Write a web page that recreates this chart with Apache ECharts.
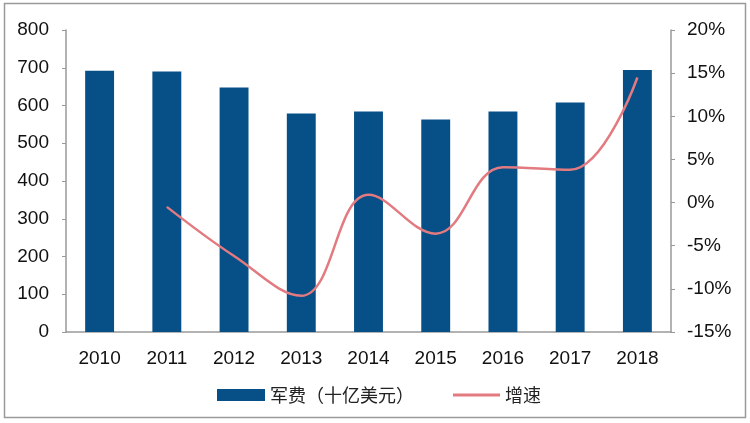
<!DOCTYPE html>
<html>
<head>
<meta charset="utf-8">
<script src="https://cdn.jsdelivr.net/npm/echarts@6/dist/echarts.min.js"></script>
<style>
  html, body { margin: 0; padding: 0; background: #fff; }
  #chart { width: 750px; height: 423px; }
</style>
</head>
<body>
<div id="chart"></div>
<script>
const years = ["2010", "2011", "2012", "2013", "2014", "2015", "2016", "2017", "2018"];
const spending = [692, 690, 648, 579, 584, 563, 584, 608, 694];
const growth = [null, -0.5, -6.2, -10.8, 0.9, -3.6, 4.1, 3.8, 14.5];

const myChart = echarts.init(document.getElementById("chart"));
const font = "Liberation Sans, Arial, sans-serif";
const legendText = { fontSize: 18, color: "#222", fontFamily: "Noto Sans CJK SC" };

const option = {
  animation: false,
  graphic: [
    {
      type: "rect",
      shape: { x: 4.5, y: 3.5, width: 741, height: 414 },
      style: { fill: "none", stroke: "#9a9a9a", lineWidth: 1.5 }
    }
  ],
  grid: { left: 66, right: 79, top: 30, bottom: 91 },
  legend: [
    {
      bottom: 14,
      left: 212,
      itemWidth: 48,
      itemHeight: 12,
      textStyle: legendText,
      data: [{ name: "军费（十亿美元）", icon: "rect" }]
    },
    {
      bottom: 14,
      left: 448,
      itemWidth: 47,
      itemHeight: 3,
      textStyle: legendText,
      data: [{ name: "增速", icon: "rect" }]
    }
  ],
  xAxis: {
    type: "category",
    data: years,
    axisLine: { lineStyle: { color: "#999", width: 1.5 } },
    axisTick: { show: false },
    axisLabel: { fontSize: 19, color: "#111", fontFamily: font, margin: 17 }
  },
  yAxis: [
    {
      type: "value",
      min: 0,
      max: 800,
      interval: 100,
      axisLine: { show: true, lineStyle: { color: "#999", width: 1.5 } },
      axisTick: { show: true, length: 4, lineStyle: { color: "#999" } },
      splitLine: { show: false },
      axisLabel: { fontSize: 19, color: "#111", fontFamily: font, margin: 17 }
    },
    {
      type: "value",
      min: -15,
      max: 20,
      interval: 5,
      axisLine: { show: true, lineStyle: { color: "#999", width: 1.5 } },
      axisTick: { show: true, length: 4, lineStyle: { color: "#999" } },
      splitLine: { show: false },
      axisLabel: { fontSize: 19, color: "#111", fontFamily: font, margin: 16, formatter: "{value}%" }
    }
  ],
  series: [
    {
      name: "军费（十亿美元）",
      type: "bar",
      data: spending,
      barWidth: "43%",
      itemStyle: { color: "#064f87" }
    },
    {
      name: "增速",
      type: "line",
      yAxisIndex: 1,
      data: growth,
      smooth: 0.4,
      showSymbol: false,
      symbol: "none",
      lineStyle: { color: "#e27a80", width: 2.5 },
      itemStyle: { color: "#e27a80" }
    }
  ]
};

option && myChart.setOption(option);
</script>
</body>
</html>
